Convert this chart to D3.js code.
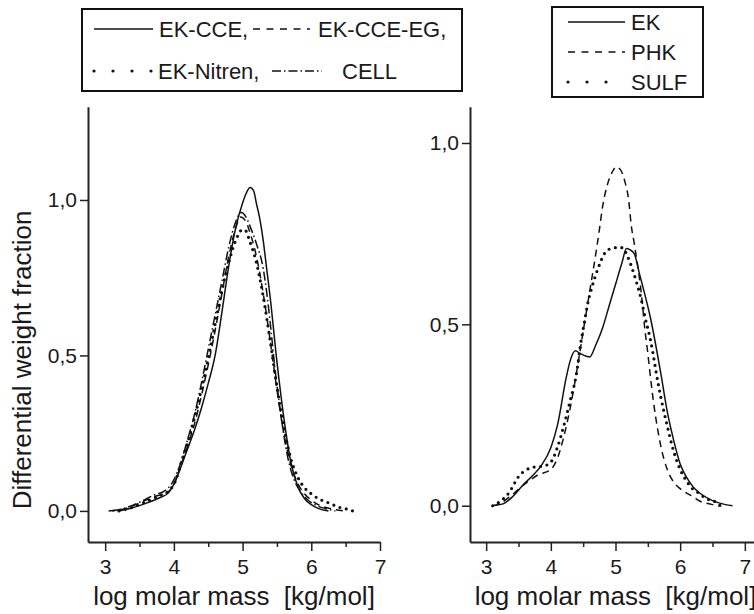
<!DOCTYPE html>
<html>
<head>
<meta charset="utf-8">
<script src="https://cdn.jsdelivr.net/npm/d3@7"></script>
<style>
  body { margin: 0; background: #fff; }
  text { font-family: "Liberation Sans", Arial, sans-serif; fill: #1a1a1a; }
</style>
</head>
<body>
<script>
// tick values
var xTicks = [3, 4, 5, 6, 7];
var xMinor = [3.5, 4.5, 5.5, 6.5];
var yTicks = [0, 0.5, 1.0];

// left panel: [log M, w]
var ekCce = [[3.2,0],[3.4,0.01],[3.6,0.025],[3.8,0.043],[3.92,0.058],[4.03,0.1],[4.1,0.14],[4.2,0.2],[4.3,0.26],[4.4,0.33],[4.5,0.41],[4.6,0.5],[4.7,0.64],[4.8,0.79],[4.9,0.91],[5.0,0.99],[5.05,1.02],[5.11,1.04],[5.16,1.03],[5.2,0.99],[5.25,0.94],[5.3,0.87],[5.35,0.78],[5.4,0.69],[5.5,0.48],[5.6,0.3],[5.7,0.16],[5.8,0.08],[5.9,0.04],[6.0,0.02],[6.1,0.008],[6.25,0]];
var ekCceEg = [[3.05,0],[3.3,0.008],[3.5,0.025],[3.7,0.045],[3.92,0.062],[4.03,0.1],[4.1,0.145],[4.2,0.21],[4.3,0.28],[4.4,0.37],[4.5,0.47],[4.6,0.58],[4.7,0.7],[4.8,0.82],[4.9,0.91],[4.97,0.945],[5.05,0.93],[5.1,0.9],[5.2,0.82],[5.3,0.7],[5.4,0.55],[5.5,0.39],[5.6,0.25],[5.7,0.15],[5.8,0.09],[5.9,0.055],[6.0,0.035],[6.1,0.02],[6.2,0.012],[6.35,0.004],[6.5,0]];
var ekNitren = [[3.2,0],[3.4,0.012],[3.6,0.03],[3.8,0.05],[3.93,0.065],[4.03,0.1],[4.1,0.15],[4.2,0.22],[4.3,0.3],[4.4,0.39],[4.5,0.49],[4.6,0.6],[4.7,0.71],[4.8,0.8],[4.9,0.87],[5.0,0.905],[5.05,0.9],[5.1,0.87],[5.2,0.8],[5.3,0.69],[5.4,0.55],[5.5,0.4],[5.6,0.27],[5.7,0.17],[5.8,0.11],[5.9,0.075],[6.0,0.055],[6.1,0.04],[6.25,0.026],[6.4,0.012],[6.55,0.004],[6.6,0]];
var cell = [[3.1,0],[3.3,0.01],[3.5,0.028],[3.7,0.05],[3.9,0.07],[4.0,0.1],[4.1,0.155],[4.2,0.23],[4.3,0.31],[4.4,0.41],[4.5,0.52],[4.6,0.63],[4.7,0.74],[4.8,0.85],[4.9,0.93],[4.98,0.96],[5.05,0.945],[5.1,0.92],[5.2,0.86],[5.3,0.78],[5.4,0.61],[5.47,0.46],[5.55,0.32],[5.65,0.18],[5.75,0.1],[5.85,0.06],[5.95,0.035],[6.05,0.02],[6.2,0.008],[6.35,0]];

// right panel
var ek = [[3.09,0],[3.26,0.005],[3.41,0.025],[3.57,0.057],[3.7,0.08],[3.85,0.11],[4.0,0.16],[4.1,0.22],[4.24,0.355],[4.3,0.4],[4.38,0.427],[4.45,0.42],[4.6,0.41],[4.7,0.445],[4.8,0.49],[4.9,0.55],[5.0,0.61],[5.1,0.67],[5.17,0.709],[5.22,0.706],[5.29,0.695],[5.37,0.64],[5.55,0.51],[5.71,0.355],[5.8,0.26],[5.9,0.18],[6.0,0.115],[6.1,0.078],[6.2,0.052],[6.3,0.035],[6.5,0.014],[6.7,0.003],[6.81,0]];
var phk = [[3.1,0],[3.2,0.005],[3.4,0.03],[3.6,0.06],[3.8,0.085],[4.0,0.1],[4.1,0.13],[4.2,0.19],[4.3,0.27],[4.4,0.37],[4.5,0.48],[4.6,0.59],[4.7,0.7],[4.75,0.76],[4.8,0.824],[4.88,0.888],[4.95,0.92],[5.01,0.934],[5.08,0.925],[5.14,0.897],[5.21,0.833],[5.24,0.778],[5.29,0.723],[5.41,0.567],[5.45,0.493],[5.5,0.42],[5.54,0.355],[5.6,0.27],[5.7,0.165],[5.8,0.1],[5.9,0.065],[6.0,0.047],[6.1,0.035],[6.2,0.025],[6.3,0.013],[6.4,0.007],[6.5,0.003],[6.6,0]];
var sulf = [[3.1,0],[3.2,0.01],[3.35,0.035],[3.5,0.08],[3.7,0.105],[3.9,0.11],[4.0,0.12],[4.1,0.16],[4.2,0.22],[4.3,0.29],[4.39,0.357],[4.47,0.456],[4.52,0.507],[4.57,0.557],[4.64,0.605],[4.73,0.654],[4.85,0.7],[4.95,0.71],[5.05,0.712],[5.11,0.711],[5.18,0.69],[5.24,0.663],[5.33,0.613],[5.4,0.567],[5.46,0.517],[5.53,0.466],[5.58,0.42],[5.63,0.366],[5.7,0.3],[5.8,0.22],[5.9,0.15],[6.0,0.1],[6.1,0.068],[6.2,0.045],[6.27,0.037],[6.4,0.02],[6.55,0.01],[6.62,0]];

var styles = {
  solid:   { dash: null,        width: 1.5, cap: "butt" },
  dashed:  { dash: "7,5",       width: 1.5, cap: "butt" },
  dotted:  { dash: "0,6.5",     width: 3.2, cap: "round" },
  dashdot: { dash: "9,3,1.5,3", width: 1.5, cap: "butt" }
};

var width = 754, height = 614;
var svg = d3.select("body").append("svg")
  .attr("width", width)
  .attr("height", height);

var fmt = function(d) { return d3.format(".1f")(d).replace(".", ","); };

function drawPanel(xDomain, xRange, yDomain, series) {
  var x = d3.scaleLinear().domain(xDomain).range(xRange);
  var y = d3.scaleLinear().domain(yDomain).range([542, 106.7]);

  // x axis, major ticks with labels
  svg.append("g")
    .attr("transform", "translate(0,542)")
    .call(d3.axisBottom(x).tickValues(xTicks).tickSize(9).tickSizeOuter(0).tickPadding(8).tickFormat(d3.format("d")));
  // minor ticks
  svg.append("g")
    .attr("transform", "translate(0,542)")
    .call(d3.axisBottom(x).tickValues(xMinor).tickSize(5).tickSizeOuter(0).tickFormat(""))
    .select(".domain").remove();

  svg.append("g")
    .attr("transform", "translate(" + xRange[0] + ",0)")
    .call(d3.axisLeft(y).tickValues(yTicks).tickSize(8).tickSizeOuter(0).tickPadding(3).tickFormat(fmt));

  svg.selectAll(".domain").attr("stroke", "#222").attr("stroke-width", 2);
  svg.selectAll(".tick line").attr("stroke", "#222").attr("stroke-width", 1.5);
  svg.selectAll(".tick text").attr("font-size", 21).attr("fill", "#1a1a1a")
    .attr("font-family", "'Liberation Sans', Arial, sans-serif");

  var line = d3.line()
    .x(function(d) { return x(d[0]); })
    .y(function(d) { return y(d[1]); })
    .curve(d3.curveMonotoneX);

  series.forEach(function(s) {
    var st = styles[s.style];
    svg.append("path")
      .datum(s.data)
      .attr("d", line)
      .attr("fill", "none")
      .attr("stroke", "#111")
      .attr("stroke-width", st.width)
      .attr("stroke-linecap", st.cap)
      .attr("stroke-dasharray", st.dash);
  });

  // x title
  svg.append("text")
    .attr("x", (x(xDomain[0]) + x(xDomain[1])) / 2)
    .attr("y", 605)
    .attr("text-anchor", "middle")
    .attr("font-size", 26)
    .text("log molar mass  [kg/mol]")
    .style("white-space", "pre");
}

drawPanel([2.75, 7], [88, 380], [-0.1, 1.3], [
  { data: ekCce, style: "solid" },
  { data: ekCceEg, style: "dashed" },
  { data: ekNitren, style: "dotted" },
  { data: cell, style: "dashdot" }
]);

drawPanel([2.75, 7.25], [470, 761], [-0.1, 1.1], [
  { data: ek, style: "solid" },
  { data: phk, style: "dashed" },
  { data: sulf, style: "dotted" }
]);

// y title (left panel only)
svg.append("text")
  .attr("transform", "translate(31,360) rotate(-90)")
  .attr("text-anchor", "middle")
  .attr("font-size", 26)
  .text("Differential weight fraction");

// legends
var legendStyles = {
  solid:   { dash: null,          width: 1.5, cap: "butt" },
  dashed:  { dash: "7,6.5",       width: 1.5, cap: "butt" },
  dotted:  { dash: "0,19",        width: 3.2, cap: "round" },
  dashdot: { dash: "9,3,1.5,3",   width: 1.3, cap: "butt" }
};

function sample(x0, x1, yc, style) {
  var st = legendStyles[style];
  svg.append("line")
    .attr("x1", x0).attr("x2", x1).attr("y1", yc).attr("y2", yc)
    .attr("stroke", "#111")
    .attr("stroke-width", st.width)
    .attr("stroke-linecap", st.cap)
    .attr("stroke-dasharray", st.dash);
}
function label(x0, yc, txt) {
  svg.append("text").attr("x", x0).attr("y", yc + 8).attr("font-size", 22).text(txt);
}

// legend 1
svg.append("rect").attr("x", 82).attr("y", 9).attr("width", 380).attr("height", 82)
  .attr("fill", "none").attr("stroke", "#111").attr("stroke-width", 2);
sample(94, 153, 29, "solid");   label(159, 29, "EK-CCE,");
sample(253, 310, 29, "dashed"); label(318, 29, "EK-CCE-EG,");
sample(94, 153, 71, "dotted");  label(158, 71, "EK-Nitren,");
sample(272, 322, 71, "dashdot"); label(342, 71, "CELL");

// legend 2
svg.append("rect").attr("x", 552).attr("y", 7).attr("width", 151).attr("height", 90)
  .attr("fill", "none").attr("stroke", "#111").attr("stroke-width", 2);
sample(568, 625, 22, "solid");  label(631, 22, "EK");
sample(568, 625, 52, "dashed"); label(631, 52, "PHK");
sample(568, 625, 82, "dotted"); label(631, 82, "SULF");
</script>
</body>
</html>
